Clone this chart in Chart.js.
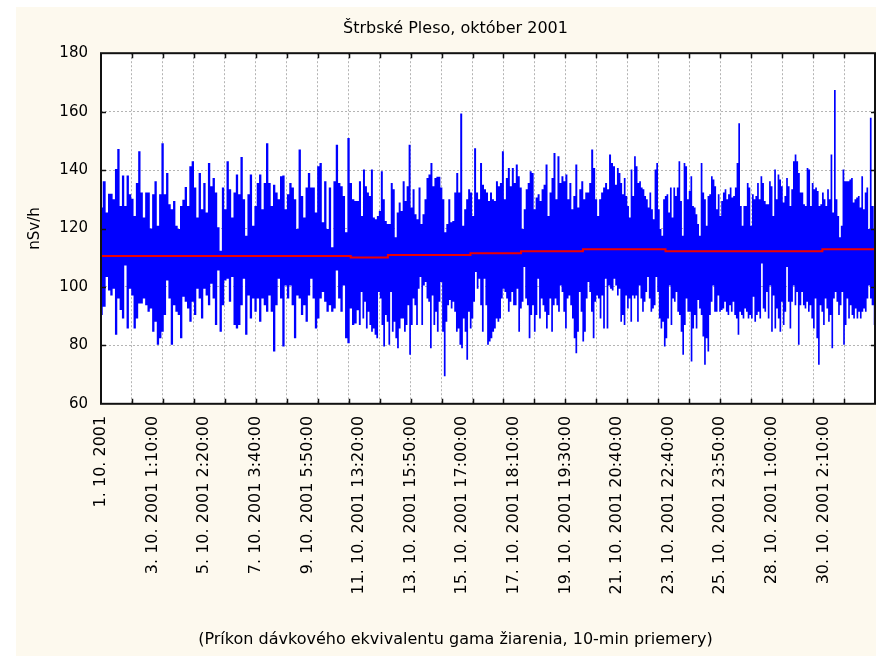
<!DOCTYPE html>
<html>
<head>
<meta charset="utf-8">
<script src="https://cdn.jsdelivr.net/npm/chart.js@4/dist/chart.umd.min.js"></script>
<style>
html,body{margin:0;padding:0;background:#fff;}
#wrap{width:876px;height:656px;}
</style>
</head>
<body>
<div id="wrap"><canvas id="c" width="876" height="656"></canvas></div>
<script>
// ---- Data ----
const chartTitle = 'Štrbské Pleso, október 2001';
const yTitle = 'nSv/h';
const xTitle = '(Príkon dávkového ekvivalentu gama žiarenia, 10-min priemery)';

// x-axis tick labels (every 5 axis units), grid every 3 units, axis spans 0..75
const xLabels = [
  '1. 10. 2001', '3. 10. 2001 1:10:00', '5. 10. 2001 2:20:00', '7. 10. 2001 3:40:00',
  '9. 10. 2001 5:50:00', '11. 10. 2001 13:20:00', '13. 10. 2001 15:50:00', '15. 10. 2001 17:00:00',
  '17. 10. 2001 18:10:00', '19. 10. 2001 19:30:00', '21. 10. 2001 20:40:00', '23. 10. 2001 22:40:00',
  '25. 10. 2001 23:50:00', '28. 10. 2001 1:00:00', '30. 10. 2001 2:10:00'
];
const yTicks = [60, 80, 100, 120, 140, 160, 180];

// 10-min values: local maxima (upper envelope) and minima (lower envelope), by thirds of the month
const upperA = [
127.2,136.2,125.5,131.9,131.9,130,140.4,147.2,127.7,138.1,
127.7,138.1,131.7,130.2,124.3,135.6,146.4,132.3,123.8,132.3,
132.3,120,131.7,136.2,120.9,131.7,149.2,131.7,139,128.3,
126.6,129.4,120.9,119.8,127.7,129.8,134.2,127.7,141.3,143,
134,123.8,139,126.6,135.6,125.5,142.4,134.5,137.3,132.3,
120.4,112.4,134,126.6,143,133.4,123.8,132.3,138.5,131.7,
144.5,130,117.5,131.7,138.5,120.9,127.7,135.6,138.5,126.6,
135.6,149.2,135.6,127.7,135,132.3,130,137.9,138.1,126.6,
131.7,135.6,134,130,119.8,147,131.1,123.8,134,139,
134,134,125.5,141.3,142.4,122.1,136.2,119.8,134,113.6,
136.2,148.7,135.6,134.5,131.1,118.7,151,135.6,130,129.4,
129.4];
const lowerA = [
90.4,93.2,103.4,98.8,97.1,99.4,83.6,96,92.1,89.2,
107.3,85.8,99.4,97.1,85.8,89.2,94.3,94.3,96,93.7,
91.5,92.6,84.7,88.1,80.2,82.4,84.7,90.4,102.2,96,
80.2,93.7,91.5,90.4,82.4,96.6,94.9,92.6,88.1,94.9,
90.4,99.4,96,89.2,99.4,97.1,93.7,101.1,96,87,
105.6,84.7,93.7,102.2,102.8,94.9,103.4,87,85.8,87,
93.7,102.8,83.6,97.1,89.2,96,91.5,96,88.1,96,
93.7,91.5,97.1,91.5,77.9,93.7,102.8,96,79.6,100.5,
96,100.5,93.7,82.4,97.1,96,90.4,93.7,88.1,97.1,
102.8,96,85.8,89.2,96,98.3,94.9,91.5,93.7,91.5,
92.6,105.6,96,91.5,100.5,82.4,80.7,92.6,87,87.5,
92];
const upperB = [
136.2,124.3,140.2,134.5,132.3,131.1,140.2,123.8,123.2,124.3,
126,139.6,130,122.6,121.5,121.5,135.6,133.4,117,125.5,
128.9,126,136.2,129.4,134.5,148.7,127.2,133.4,124.9,123.2,
134,121.5,124.9,130,137.3,138.5,142.4,134.5,137.3,137.7,
137.7,134,130,118.7,121.5,130,122.1,122.6,132.3,139,
132.3,159.4,120.9,126.6,130,133.4,132.3,124.3,147.5,132.3,
130,142.4,135,133.4,132.3,129.4,132.3,130,129.4,136.2,
134.5,135.6,146.4,130,137.3,140.7,134.5,140.7,135.6,141.9,
137.9,134,119.8,126.6,133.4,135.6,139.6,139,126.6,130.6,
131.7,129.4,133.4,135,141.9,124.3,132.3,137.3,145.8,130,
144.7,135.6,137.9,136.2,138.5,130,135.6,126.6,131.1,141.9,
127.2,133.4,136.2,130,132.3,132.3,135.6,147,140.7,130,
124.3,130,132.3,134,135.6,133.4,145.3,142.4,141.3,135];
const lowerB = [
87,98.3,89.2,94.9,85.8,91.5,87,84.7,85.8,83.6,
82.4,98.3,96,87,79.6,90.4,88.1,80.2,98.3,84.7,
88.1,82.4,79,85.8,89.2,89.2,84.7,87,93.7,76.8,
87,96,93.7,87,99.4,103.4,87,100.5,101.7,96,
94.9,79,97.1,87,91.5,84.7,94.9,101.7,84.7,69.4,
88.1,93.7,95.5,92.6,94.9,91.5,84.7,85.8,80.2,79,
89.2,84.7,75.1,91.5,85.8,89.2,94.9,105.1,99.4,102.8,
93.7,84.7,102.8,93.7,80.2,81.3,82.4,84.7,85.8,89.2,
88.1,89.2,96,99.4,98.3,96,91.5,94.9,98.3,93.7,
93.7,99.4,84.7,92.6,94.9,106.8,96,93.7,82.4,90.4,
93.7,84.7,90.4,102.8,89.2,96,93.7,91.5,85.8,90.4,
96,84.7,93.7,96,93.7,91.5,100.5,98.3,91.5,85.8,
96,97.1,93.7,89.2,82.4,77.3,84.7,98.3,91.5,81.3,
84.7,96,101.7,98.3,91.5,82.4,94.9,97.1,96,89.2,
97.1,85.8,102.8,85.8,100.5,99.4,98.8,102.8,100.5];
const upperC = [
140.7,139,135.6,131.7,137.3,131.1,127.7,123.8,140.2,131.1,
144.7,141.3,135.6,136.2,134,133.4,131.1,130,127.2,132.3,
126.6,123.2,140.2,142.4,126.6,119.8,117.5,130,131.1,131.7,
125.5,134,123.8,134,131.1,134,143,129.4,117.5,142.4,
141.3,130,132.8,137.9,127.7,127.2,124.9,121.5,117.5,142.4,
132.3,130,120.9,131.1,131.7,137.9,136.8,134.5,126.6,131.7,
124.3,129.4,132.3,133.4,130,131.7,134,130.6,131.1,134,
142.4,156,127.7,120.9,127.7,127.7,135.6,134,120.9,131.7,
130,131.1,135.6,130,137.9,135.6,129.4,128.3,128.3,136.2,
134.5,124.3,140.2,130,138.5,136.8,134.5,128.9,131.1,137.3,
134.5,127.7,133.4,143,145.3,143,139,132.3,132.3,128.3,
127.7,140.7,140.2,127.7,135.6,133.4,134,132.8,127.7,128.3,
132.3,130,127.7,133.4,130,145.3,125.5,167.4,130,124.3,
117,120.9,140.2,136.2,136.2,136.2,136.8,137.3,128.9,130,
130.6,131.1,127.2,137.9,126.6,132.3,134,119.8,157.9,127.7,
119.8];
const lowerC = [
97.1,99.4,88.1,90.4,87,97.1,92.6,96,88.1,97.1,
96,97.1,88.1,100.5,96,91.5,94.9,98.3,103.4,96,
91.5,92.6,93.7,103.4,98.3,89.2,85.8,88.1,79.6,82.4,
89.2,100.5,87,96,94.9,98.3,91.5,90.4,84.7,76.8,
87,96,91.5,91.5,74.5,85.8,90.4,85.8,95.5,92.6,
90.4,83,73.4,82.4,77.9,90.4,94.9,100.5,91.5,91.5,
97.1,91.5,92.1,92.6,94.9,91.5,90.4,93.7,91.5,94.9,
90.4,89.2,83.6,91.5,90.4,89.2,92.6,91.5,89.2,90.4,
89.2,96.6,88.1,90.4,91.5,89.2,109.6,92.6,91.5,98.3,
89.2,100.5,84.7,97.1,85.8,92.6,89.2,84.7,94.9,87,
91.5,106.8,94.9,85.8,94.9,100.5,93.7,98.3,80.2,93.7,
98.3,93.7,92.6,94.9,91.5,93.7,89.2,85.8,96,82.4,
73.4,93.7,91.5,87,96,92.6,88.1,90.4,79,96,
98.3,94.9,90.4,93.7,98.3,80.2,87,96,89.2,93.7,
90.4,89.2,92.6,89.2,91.5,89.2,91.5,92.6,91.5,96,
100.5,96,93.7,87];

// red step line (running mean): level values and the axis positions where each level starts
const meanStarts = [0, 24.2, 27.8, 35.8, 40.7, 46.7, 54.7, 69.9];
const meanLevels = [110.6, 110.1, 110.9, 111.5, 112.2, 112.9, 112.2, 112.9];
const X_MAX = 75;

// ---- build datasets from the arrays ----
function spread(arr, start, span) {
  return arr.map((v, i) => ({x: start + span * (i + 0.5) / arr.length, y: v}));
}
const upperData = [].concat(spread(upperA, 0, 25), spread(upperB, 25, 25), spread(upperC, 50, 25));
const lowerData = [].concat(spread(lowerA, 0, 25), spread(lowerB, 25, 25), spread(lowerC, 50, 25));
upperData[0].x = 0; lowerData[0].x = 0;
upperData[upperData.length - 1].x = X_MAX; lowerData[lowerData.length - 1].x = X_MAX;

const redData = meanStarts.map((s, i) => ({x: s, y: meanLevels[i]}));
redData.push({x: X_MAX, y: meanLevels[meanLevels.length - 1]});

const xTickValues = [];
for (let v = 0; v <= X_MAX; v++) if (v % 3 === 0 || v % 5 === 0) xTickValues.push(v);

Chart.defaults.font.family = "'DejaVu Sans', sans-serif";
Chart.defaults.font.size = 15;
Chart.defaults.color = '#000';

const GRID = '#b4b4b4';
const BLUE = '#0000ff';

const framePlugin = {
  id: 'frame',
  beforeDraw(chart) {
    const {ctx, chartArea: a} = chart;
    ctx.save();
    ctx.fillStyle = '#ffffff';
    ctx.fillRect(0, 0, chart.width, chart.height);
    ctx.fillStyle = '#FDF9EE';
    ctx.fillRect(16, 7, chart.width - 16, chart.height - 7);
    ctx.fillStyle = '#ffffff';
    ctx.fillRect(a.left, a.top, a.right - a.left, a.bottom - a.top);
    ctx.restore();
  },
  afterDatasetsDraw(chart) {
    const {ctx, chartArea: a, scales} = chart;
    const xs = scales.x, ys = scales.y;
    ctx.save();
    ctx.strokeStyle = '#111';
    ctx.lineWidth = 2;
    ctx.strokeRect(a.left, a.top, a.right - a.left, a.bottom - a.top);
    ctx.lineWidth = 1.5;
    ctx.beginPath();
    yTicks.forEach(v => {
      if (v === yTicks[0] || v === yTicks[yTicks.length - 1]) return;
      const py = Math.round(ys.getPixelForValue(v)) + 0.5;
      ctx.moveTo(a.left, py); ctx.lineTo(a.left + 5, py);
      ctx.moveTo(a.right - 4, py); ctx.lineTo(a.right, py);
    });
    xTickValues.forEach(v => {
      if (v % 3 !== 0 || v === 0 || v === X_MAX) return;
      const px = Math.round(xs.getPixelForValue(v)) + 0.5;
      ctx.moveTo(px, a.top); ctx.lineTo(px, a.top + 5);
      ctx.moveTo(px, a.bottom - 5); ctx.lineTo(px, a.bottom);
    });
    ctx.stroke();
    ctx.restore();
  }
};

new Chart(document.getElementById('c'), {
  type: 'line',
  data: {
    datasets: [
      {
        label: 'mean',
        data: redData,
        borderColor: '#ee0000',
        borderWidth: 2,
        stepped: true,
        pointRadius: 0,
        fill: false,
        order: 0
      },
      {
        label: 'nSv/h max',
        data: upperData,
        borderColor: BLUE,
        backgroundColor: BLUE,
        borderWidth: 0,
        stepped: 'middle',
        pointRadius: 0,
        fill: {value: 108},
        order: 1
      },
      {
        label: 'nSv/h min',
        data: lowerData,
        borderColor: BLUE,
        backgroundColor: BLUE,
        borderWidth: 0,
        stepped: 'middle',
        pointRadius: 0,
        fill: {value: 112},
        order: 2
      }
    ]
  },
  options: {
    responsive: false,
    animation: false,
    events: [],
    layout: {padding: {left: 36, right: 1, top: 0, bottom: 0}},
    plugins: {
      legend: {display: false},
      tooltip: {enabled: false},
      title: {
        display: true,
        text: chartTitle,
        color: '#000',
        font: {size: 16, weight: 'normal'},
        padding: {top: 19, bottom: 15}
      },
      subtitle: {
        display: true,
        position: 'bottom',
        text: xTitle,
        color: '#000',
        font: {size: 16, weight: 'normal'},
        padding: {top: 0, bottom: 7}
      }
    },
    scales: {
      x: {
        type: 'linear',
        min: 0,
        max: X_MAX,
        afterBuildTicks: s => { s.ticks = xTickValues.map(v => ({value: v})); },
        afterFit: s => { s.height = 226; s.paddingLeft = 0; s.paddingRight = 0; },
        ticks: {
          autoSkip: false,
          minRotation: 90,
          maxRotation: 90,
          padding: 12,
          color: '#000',
          font: {size: 16},
          callback: v => (v % 5 === 0 && v < X_MAX) ? xLabels[v / 5] : ''
        },
        grid: {
          drawTicks: false,
          color: c => (c.tick && c.tick.value % 3 === 0 && c.tick.value > 0 && c.tick.value < X_MAX) ? GRID : 'rgba(0,0,0,0)'
        },
        border: {display: false, dash: [2, 2]}
      },
      y: {
        min: 60,
        max: 180,
        afterBuildTicks: s => { s.ticks = yTicks.map(v => ({value: v})); },
        afterFit: s => { s.width = 65; },
        ticks: {padding: 13, color: '#000', font: {size: 15}},
        grid: {
          drawTicks: false,
          color: c => (c.tick && c.tick.value > 60 && c.tick.value < 180) ? GRID : 'rgba(0,0,0,0)'
        },
        border: {display: false, dash: [2, 2]},
        title: {
          display: true,
          text: yTitle,
          color: '#000',
          font: {size: 15, weight: 'normal'},
          padding: {top: -10, bottom: 0}
        }
      }
    }
  },
  plugins: [framePlugin]
});
</script>
</body>
</html>
